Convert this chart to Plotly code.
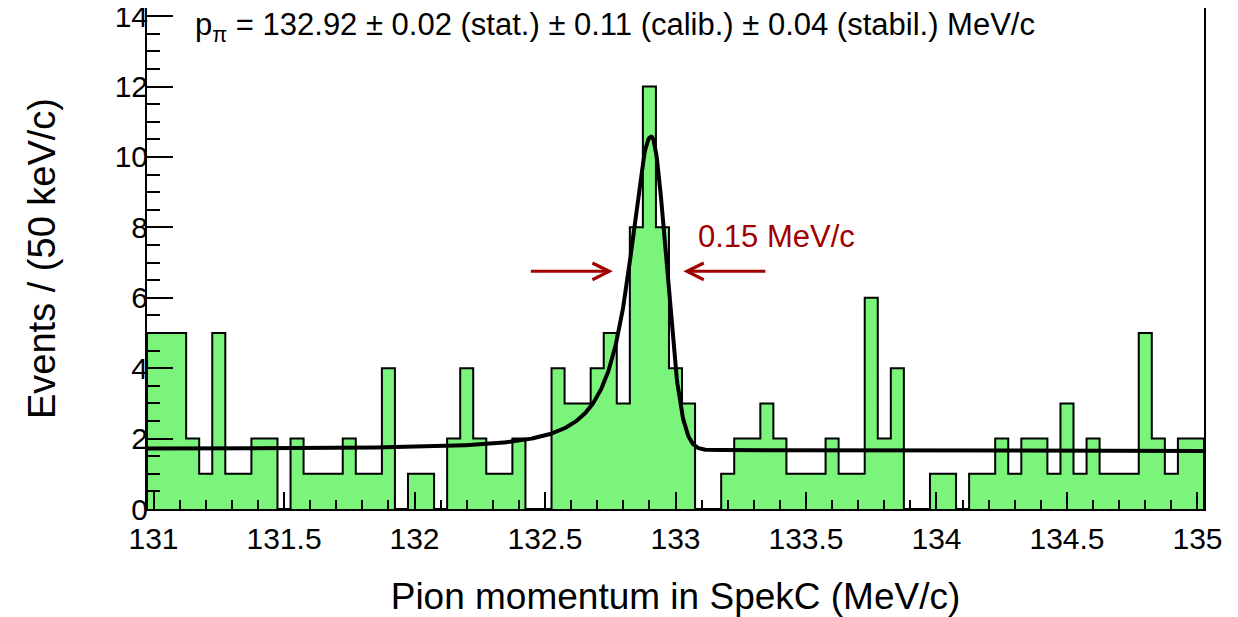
import numpy as np
import plotly.graph_objects as go

# ---- data ----
bin_width = 0.05
first_center = 131.00
counts = [5, 5, 5, 2, 1, 5, 1, 1, 2, 2, 0, 2, 1, 1, 1, 2, 1, 1, 4, 0,
          1, 1, 0, 2, 4, 2, 1, 1, 2, 0, 0, 4, 3, 3, 4, 5, 3, 8, 12, 8,
          4, 3, 0, 0, 1, 2, 2, 3, 2, 1, 1, 1, 2, 1, 1, 6, 2, 4, 0, 0,
          1, 1, 0, 1, 1, 2, 1, 2, 2, 1, 3, 1, 2, 1, 1, 1, 5, 2, 1, 2, 2]

# fit parameters
fit_mu = 132.907
fit_amp = 8.9
fit_gamma_left = 0.099
fit_power_left = 2.15
fit_sigma_right = 0.057
fit_bg0 = 1.70
fit_bg_slope = -0.0125

x_ticks = [131, 131.5, 132, 132.5, 133, 133.5, 134, 134.5, 135]
y_ticks = [0, 2, 4, 6, 8, 10, 12, 14]

title_text = "p<sub>π</sub> = 132.92 ± 0.02 (stat.) ± 0.11 (calib.) ± 0.04 (stabil.) MeV/c"
width_text = "0.15 MeV/c"

# ---- derived ----
n = len(counts)
centers = first_center + bin_width * np.arange(n)
lefts = centers - bin_width / 2
rights = centers + bin_width / 2
xlo, xhi = lefts[0], rights[-1]

step_x = [lefts[0]]
step_y = [0]
for l, r, c in zip(lefts, rights, counts):
    step_x += [l, r]
    step_y += [c, c]
step_x.append(rights[-1])
step_y.append(0)

xf = np.linspace(xlo, xhi, 1601)
d = xf - fit_mu
peak = np.where(d < 0,
                1.0 / (1.0 + (np.abs(d) / fit_gamma_left) ** fit_power_left),
                np.exp(-0.5 * (d / fit_sigma_right) ** 2))
yf = fit_bg0 + fit_bg_slope * (xf - 131) + fit_amp * peak

FONT = "Liberation Sans, Arial, Helvetica, sans-serif"
RED = "#a00000"

fig = go.Figure()
fig.add_trace(go.Bar(x=centers, y=counts, width=bin_width,
                     marker=dict(color="rgb(122,244,122)", line=dict(width=0)),
                     hoverinfo="x+y", showlegend=False))
fig.add_trace(go.Scatter(x=step_x, y=step_y, mode="lines",
                         line=dict(color="black", width=2), showlegend=False,
                         hoverinfo="skip"))
fig.add_trace(go.Scatter(x=xf, y=yf, mode="lines",
                         line=dict(color="black", width=4), showlegend=False))

fig.add_annotation(x=132.77, y=13.7, xref="x", yref="y", text=title_text,
                   showarrow=False, xanchor="center", yanchor="middle",
                   font=dict(family=FONT, size=31, color="black"))
fig.add_annotation(x=133.08, y=7.75, xref="x", yref="y", text=width_text,
                   showarrow=False, xanchor="left", yanchor="middle",
                   font=dict(family=FONT, size=31, color=RED))
# FWHM arrows
fig.add_annotation(x=132.76, y=6.75, ax=132.44, ay=6.75, xref="x", yref="y",
                   axref="x", ayref="y", text="", showarrow=True,
                   arrowhead=5, arrowsize=1.1, arrowwidth=3, arrowcolor=RED)
fig.add_annotation(x=133.03, y=6.75, ax=133.35, ay=6.75, xref="x", yref="y",
                   axref="x", ayref="y", text="", showarrow=True,
                   arrowhead=5, arrowsize=1.1, arrowwidth=3, arrowcolor=RED)

fig.update_layout(
    width=1230, height=609,
    margin=dict(l=139, r=34, t=0, b=108),
    paper_bgcolor="white", plot_bgcolor="white",
    bargap=0,
    font=dict(family=FONT, color="black"),
)
fig.update_xaxes(range=[xlo, xhi], tickvals=x_ticks,
                 ticktext=[f"{v:g}" for v in x_ticks],
                 ticks="inside", ticklen=17, tickwidth=2, tickcolor="black",
                 minor=dict(dtick=0.1, tick0=131, ticks="inside", ticklen=9,
                            tickwidth=2, tickcolor="black"),
                 showline=True, linecolor="black", linewidth=2, mirror=True,
                 showgrid=False, zeroline=False, automargin=False,
                 tickfont=dict(family=FONT, size=30), ticklabelstandoff=2,
                 title=dict(text="Pion momentum in SpekC (MeV/c)",
                            font=dict(family=FONT, size=37), standoff=30))
fig.update_yaxes(range=[0, 14.23], tickvals=y_ticks,
                 ticks="inside", ticklen=26, tickwidth=2, tickcolor="black",
                 minor=dict(dtick=0.5, tick0=0, ticks="inside", ticklen=13,
                            tickwidth=2, tickcolor="black"),
                 showline=True, linecolor="black", linewidth=2, mirror=True,
                 showgrid=False, zeroline=False, automargin=False,
                 ticklabeloverflow="allow",
                 tickfont=dict(family=FONT, size=30), ticklabelstandoff=-9,
                 title=dict(text="Events / (50 keV/c)",
                            font=dict(family=FONT, size=38), standoff=47))

fig.write_html("out.html")
